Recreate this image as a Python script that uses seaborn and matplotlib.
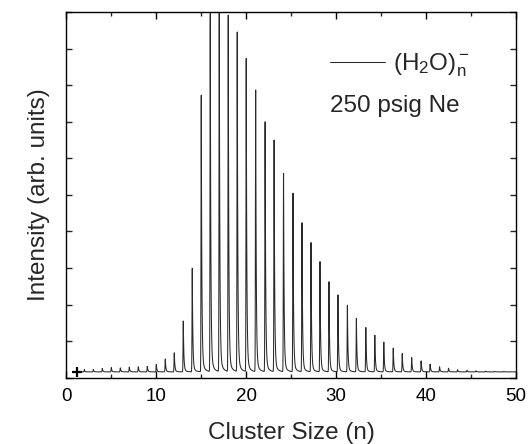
import numpy as np
import pandas as pd
import matplotlib
matplotlib.use("Agg")
import matplotlib.pyplot as plt
from matplotlib.ticker import MultipleLocator
import seaborn as sns

# ---- data ----
cluster_n = list(range(2, 50))
peak_pos = [2, 3, 4, 5, 6, 7, 8, 9, 10, 11, 12, 13, 14, 15, 16, 17, 18, 19, 20,
            21.05, 22.1, 23.1, 24.15, 25.2, 26.2, 27.2, 28.2, 29.2, 30.2,
            31.25, 32.25, 33.3, 34.3, 35.3, 36.35, 37.35, 38.4, 39.45, 40.45,
            41.5, 42.5, 43.5, 44.55, 45.55, 46.6, 47.6, 48.65, 49.65]
peak_height = [0.21, 0.22, 0.25, 0.27, 0.27, 0.29, 0.30, 0.31, 0.36, 0.51,
               0.68, 1.55, 2.99, 7.72, 9.95, 10.3, 9.90, 9.44, 8.72, 7.86,
               6.99, 6.49, 5.58, 5.04, 4.23, 3.69, 3.17, 2.62, 2.26, 1.98,
               1.62, 1.37, 1.16, 0.97, 0.81, 0.66, 0.55, 0.46, 0.37, 0.30,
               0.26, 0.22, 0.20, 0.19, 0.18, 0.17, 0.17, 0.16]
baseline = 0.16
first_marker = (1.15, 0.16)   # the "+" at n = 1
x_start, x_end = 0.8, 50.0

x_ticks = [0, 10, 20, 30, 40, 50]
legend_label = r'(H$_{\rm 2}$O)$_{\rm n}^{\rm -}$'
note_text = "250 psig Ne"

# ---- build spectrum trace from the read peak heights (lineshape) ----
x = np.arange(x_start, x_end, 0.004)
x = np.unique(np.concatenate([x, np.array(peak_pos, dtype=float)]))
y = np.full_like(x, baseline)
for p, h in zip(peak_pos, peak_height):
    a = h - baseline
    d = x - p
    core = np.where(d >= 0, np.exp(-d / 0.06), np.exp(-(d / 0.04) ** 2))
    tail = np.where(d >= 0, np.exp(-d / 0.28) * (1 - np.exp(-d / 0.05)), 0.0)
    y += a * (core + 0.045 * tail)
df = pd.DataFrame({"Cluster Size (n)": x, "Intensity": y})

# ---- style ----
sns.set_style("ticks")
plt.rcParams["font.family"] = ["Liberation Sans", "DejaVu Sans"]
plt.rcParams["mathtext.fontset"] = "custom"
plt.rcParams["mathtext.rm"] = "Liberation Sans"
plt.rcParams["mathtext.it"] = "Liberation Sans:italic"
plt.rcParams["mathtext.bf"] = "Liberation Sans:bold"
plt.rcParams["path.simplify"] = False

fig = plt.figure(figsize=(5.29, 4.44), dpi=100)
ax = fig.add_axes([0.1255, 0.1493, 0.8500, 0.8237])

sns.lineplot(data=df, x="Cluster Size (n)", y="Intensity", ax=ax,
             color="#2a2a2a", linewidth=0.75, estimator=None, sort=False,
             label=legend_label)
ax.plot([first_marker[0]], [first_marker[1]], marker="+", color="black",
        markersize=7, markeredgewidth=1.6, linestyle="none")

ax.set_xlim(0, 50)
ax.set_ylim(0, 10)
ax.set_xticks(x_ticks)
ax.xaxis.set_minor_locator(MultipleLocator(5))
ax.yaxis.set_major_locator(MultipleLocator(1))
ax.set_yticklabels([])

ax.tick_params(axis="x", which="major", direction="in", length=5, width=1.0,
               top=True, bottom=True, labelsize=13.5, pad=7.5, colors="black")
ax.tick_params(axis="x", which="minor", direction="in", length=2.7, width=1.0,
               top=True, bottom=True)
ax.tick_params(axis="y", which="major", direction="in", length=4.3, width=1.0,
               left=True, right=True, labelleft=False)
for s in ax.spines.values():
    s.set_linewidth(1.0)
    s.set_color("black")

ax.set_xlabel("Cluster Size (n)", fontsize=17.5, labelpad=12)
ax.set_ylabel("Intensity (arb. units)", fontsize=17.5, labelpad=12)

leg = ax.legend(loc="center left", bbox_to_anchor=(0.586, 0.853),
                frameon=False, fontsize=17.5, handlelength=2.25,
                handletextpad=0.35, borderpad=0, borderaxespad=0)
for h in leg.get_lines():
    h.set_linewidth(0.75)
ax.text(0.586, 0.743, note_text, transform=ax.transAxes, fontsize=17.5,
        ha="left", va="center")

fig.savefig("out.png", dpi=100)
